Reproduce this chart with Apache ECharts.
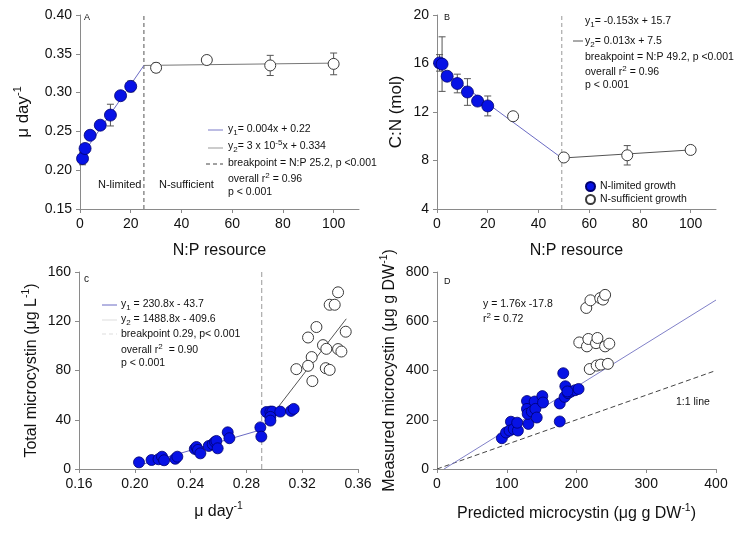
<!DOCTYPE html>
<html><head><meta charset="utf-8">
<script src="https://cdn.jsdelivr.net/npm/echarts@6/dist/echarts.min.js"></script>
<style>html,body{margin:0;padding:0;background:#fff}#c{width:740px;height:534px}</style>
</head><body><div id="c"></div>
<script>
// ---------- Panel A: growth rate vs N:P ----------
const npA_lim  = [1, 2, 4, 8, 12, 16, 20];
const muA_lim  = [0.215, 0.228, 0.245, 0.258, 0.271, 0.296, 0.308];
const errA_lim = [0.008, 0.003, 0.003, 0.003, 0.014, 0.003, 0.007];
const npA_suf  = [30, 50, 75, 100];
const muA_suf  = [0.332, 0.342, 0.335, 0.337];
const errA_suf = [0.006, 0.005, 0.013, 0.014];
const fitA1_x = [0.3, 25.2], fitA1_y = [0.217, 0.335];
const fitA2_x = [25.2, 100], fitA2_y = [0.335, 0.338];
const breakA = 25.2;

// ---------- Panel B: C:N vs N:P ----------
const npB_lim  = [1, 2, 4, 8, 12, 16, 20];
const cnB_lim  = [16.05, 15.95, 14.95, 14.35, 13.65, 12.9, 12.5];
const errB_lim = [0.68, 2.25, 0.3, 0.77, 1.1, 0.35, 0.82];
const npB_suf  = [30, 50, 75, 100];
const cnB_suf  = [11.65, 8.25, 8.43, 8.87];
const errB_suf = [0.25, 0.3, 0.8, 0.2];
const fitB1_x = [0.2, 49.2], fitB1_y = [15.74, 8.2];
const fitB2_x = [49.2, 100], fitB2_y = [8.2, 8.87];
const breakB = 49.2;

// ---------- Panel C: total microcystin vs growth rate ----------
const muC_lim = [0.203,0.212,0.217,0.2195,0.221,0.229,0.2305,0.243,0.2442,0.2453,0.247,0.253,0.2558,0.2575,0.2585,0.2594,0.2666,0.2678,0.290,0.2907,0.2943,0.2972,0.2986,0.2972,0.2972,0.3043,0.312,0.3139];
const mcC_lim = [5.4,7.3,7.9,10.0,7.1,8.3,10.0,16.3,17.9,15.5,12.7,18.7,20.1,22.0,22.8,16.8,29.8,25.0,33.8,26.3,46.3,46.6,46.6,42.3,39.3,46.6,47.2,48.8];
const muC_suf = [0.3457,0.3397,0.3433,0.3302,0.3512,0.3242,0.3349,0.3373,0.3457,0.3481,0.3268,0.3242,0.3158,0.3369,0.3397,0.3273];
const mcC_suf = [143.5,133.4,133.4,115.3,111.5,106.8,100.6,97.6,97.4,95.4,90.9,83.8,81.1,81.9,80.5,71.4];
const fitC1_x = [0.203, 0.291], fitC1_y = [3.0, 32.0];
const fitC2_x = [0.291, 0.3516], fitC2_y = [33.0, 122.0];
const breakC = 0.291;

// ---------- Panel D: measured vs predicted microcystin ----------
const predD_lim = [93,99,106,104,110,116,115,131,129,129,130,136,140,141,143,151,152,176,176,181,184,183,188,192,198,203,187];
const measD_lim = [125,148,192,156,162,156,188,183,276,244,224,233,274,244,209,296,270,266,193,389,336,293,308,314,320,325,315];
const predD_suf = [214,220,234,238,241,204,215,217,228,230,241,247,219,229,235,245];
const measD_suf = [654,685,694,688,707,514,498,528,511,532,498,509,406,420,424,427];
const fitD_x = [10.1, 400], fitD_y = [0, 686.2];
const oneD_x = [0, 400], oneD_y = [0, 400];

// ---------- styles ----------
const FF = 'Liberation Sans, Arial, sans-serif';
const BLUE = '#0712e6', BLUE_EDGE = '#00006e';
const AXC = '#8a8a8a';
const pairs = (xs, ys) => xs.map((x, i) => [x, ys[i]]);

function axis(opt) {
  return Object.assign({
    type: 'value', nameLocation: 'middle',
    axisLine: {show: true, onZero: false, lineStyle: {color: AXC, width: 1}},
    axisTick: {show: true, inside: false, length: 4, lineStyle: {color: AXC}},
    splitLine: {show: false},
    axisLabel: {color: '#111', fontSize: 14, fontFamily: FF, margin: 8},
    nameTextStyle: {color: '#111', fontSize: 16, fontFamily: FF}
  }, opt);
}
function richName(size) {
  return {
    n: {fontSize: size, fontFamily: FF, color: '#111', lineHeight: 22},
    sup: {fontSize: size * 0.65, fontFamily: FF, color: '#111', verticalAlign: 'top', lineHeight: 13}
  };
}
function lineS(i, xs, ys, color, width, type, z) {
  return {type: 'line', xAxisIndex: i, yAxisIndex: i, data: pairs(xs, ys), symbol: 'none',
    lineStyle: {color: color, width: width, type: type || 'solid'}, z: z || 2, silent: true, animation: false};
}
function scat(i, xs, ys, filled, name, size) {
  return {type: 'scatter', name: name, xAxisIndex: i, yAxisIndex: i, data: pairs(xs, ys), symbolSize: size || 11,
    itemStyle: filled ? {color: BLUE, borderColor: BLUE_EDGE, borderWidth: 0.8, opacity: 1}
                      : {color: '#fff', borderColor: '#3a3a3a', borderWidth: 1, opacity: 1},
    z: 5, animation: false};
}
function errS(i, xs, ys, es) {
  return {type: 'custom', xAxisIndex: i, yAxisIndex: i, z: 3, silent: true, animation: false,
    data: xs.map((x, k) => [x, ys[k] - es[k], ys[k] + es[k]]),
    encode: {x: 0, y: [1, 2]},
    renderItem: function (params, api) {
      const lo = api.coord([api.value(0), api.value(1)]);
      const hi = api.coord([api.value(0), api.value(2)]);
      const w = 3.5, st = {stroke: '#555', lineWidth: 1, fill: null};
      return {type: 'group', children: [
        {type: 'line', shape: {x1: lo[0], y1: lo[1], x2: hi[0], y2: hi[1]}, style: st},
        {type: 'line', shape: {x1: lo[0] - w, y1: lo[1], x2: lo[0] + w, y2: lo[1]}, style: st},
        {type: 'line', shape: {x1: hi[0] - w, y1: hi[1], x2: hi[0] + w, y2: hi[1]}, style: st}
      ]};
    }};
}
const RT = {
  t: {fontSize: 10.5, fontFamily: FF, color: '#111', lineHeight: 15},
  sub: {fontSize: 8, fontFamily: FF, color: '#111', verticalAlign: 'bottom', lineHeight: 10},
  sup: {fontSize: 8, fontFamily: FF, color: '#111', verticalAlign: 'top', lineHeight: 10}
};
function txt(x, y, s, size) {
  return {type: 'text', x: x, y: y, silent: true, z: 20,
    style: {text: s, rich: RT, fontSize: size || 10.5, fontFamily: FF, fill: '#111', verticalAlign: 'middle', align: 'left'}};
}
function seg(x1, x2, y, color, dash) {
  return {type: 'line', silent: true, z: 20, shape: {x1: x1, y1: y, x2: x2, y2: y},
    style: {stroke: color, lineWidth: 1, lineDash: dash ? [4, 3] : null}};
}

const option = {
  animation: false,
  backgroundColor: '#fff',
  textStyle: {fontFamily: FF},
  grid: [
    {left: 80, top: 15, width: 279, height: 194},
    {left: 437, top: 15, width: 279, height: 194},
    {left: 79, top: 272, width: 279, height: 197},
    {left: 437, top: 272, width: 279, height: 197}
  ],
  xAxis: [
    axis({gridIndex: 0, min: 0, max: 110, interval: 20, name: 'N:P resource', nameGap: 34,
      axisLabel: {color: '#111', fontSize: 14, fontFamily: FF, margin: 8, showMaxLabel: false}}),
    axis({gridIndex: 1, min: 0, max: 110, interval: 20, name: 'N:P resource', nameGap: 34,
      axisLabel: {color: '#111', fontSize: 14, fontFamily: FF, margin: 8, showMaxLabel: false}}),
    axis({gridIndex: 2, min: 0.16, max: 0.36, interval: 0.04, name: '{n|μ day}{sup|-1}', nameGap: 32,
      nameTextStyle: {rich: richName(16)},
      axisLabel: {color: '#111', fontSize: 14, fontFamily: FF, margin: 8, formatter: v => v.toFixed(2)}}),
    axis({gridIndex: 3, min: 0, max: 400, interval: 100, name: '{n|Predicted microcystin (μg g DW}{sup|-1}{n|)}', nameGap: 34,
      nameTextStyle: {rich: richName(16)}})
  ],
  yAxis: [
    axis({gridIndex: 0, min: 0.15, max: 0.40, interval: 0.05, name: '{n|μ day}{sup|-1}', nameGap: 46,
      nameTextStyle: {rich: richName(17)},
      axisLabel: {color: '#111', fontSize: 14, fontFamily: FF, margin: 8, formatter: v => v.toFixed(2)}}),
    axis({gridIndex: 1, min: 4, max: 20, interval: 4, name: 'C:N (mol)', nameGap: 32,
      nameTextStyle: {color: '#111', fontSize: 17, fontFamily: FF}}),
    axis({gridIndex: 2, min: 0, max: 160, interval: 40, name: '{n|Total microcystin (μg L}{sup|-1}{n|)}', nameGap: 36,
      nameTextStyle: {rich: richName(16)}}),
    axis({gridIndex: 3, min: 0, max: 800, interval: 200, name: '{n|Measured microcystin (μg g DW}{sup|-1}{n|)}', nameGap: 36,
      nameTextStyle: {rich: richName(16)}})
  ],
  legend: {
    orient: 'vertical', left: 580, top: 176, itemGap: 2, itemWidth: 9, itemHeight: 9,
    icon: 'circle', selectedMode: false,
    textStyle: {fontSize: 10.5, fontFamily: FF, color: '#111'},
    data: ['N-limited growth', 'N-sufficient growth']
  },
  series: [
    // A
    lineS(0, [breakA, breakA], [0.15, 0.40], '#555', 1, [4, 3], 1),
    lineS(0, fitA1_x, fitA1_y, '#6b6bc4', 1),
    lineS(0, fitA2_x, fitA2_y, '#777', 1),
    errS(0, npA_lim, muA_lim, errA_lim),
    errS(0, npA_suf, muA_suf, errA_suf),
    scat(0, npA_lim, muA_lim, true, 'A lim', 12),
    scat(0, npA_suf, muA_suf, false, 'A suf', 11),
    // B
    lineS(1, [breakB, breakB], [4, 20], '#999', 1, [4, 3], 1),
    lineS(1, fitB1_x, fitB1_y, '#6b6bc4', 1),
    lineS(1, fitB2_x, fitB2_y, '#555', 1),
    errS(1, npB_lim, cnB_lim, errB_lim),
    errS(1, npB_suf, cnB_suf, errB_suf),
    scat(1, npB_lim, cnB_lim, true, 'N-limited growth', 12),
    scat(1, npB_suf, cnB_suf, false, 'N-sufficient growth', 11),
    // C
    lineS(2, [breakC, breakC], [0, 160], '#999', 1, [5, 3], 1),
    lineS(2, fitC1_x, fitC1_y, '#6b6bc4', 1),
    lineS(2, fitC2_x, fitC2_y, '#555', 1),
    scat(2, muC_lim, mcC_lim, true, 'C lim', 11),
    scat(2, muC_suf, mcC_suf, false, 'C suf', 11),
    // D
    lineS(3, oneD_x, oneD_y, '#444', 1, [5, 3], 1),
    lineS(3, fitD_x, fitD_y, '#8080c8', 1),
    scat(3, predD_lim, measD_lim, true, 'D lim', 11),
    scat(3, predD_suf, measD_suf, false, 'D suf', 11)
  ],
  graphic: [
    // panel letters
    txt(84, 18, 'A', 9), txt(444, 18, 'B', 9), txt(84, 279, 'c', 10), txt(444, 282, 'D', 9),
    // A annotations
    txt(98, 185, 'N-limited', 11), txt(159, 185, 'N-sufficient', 11),
    seg(208, 223, 130, '#7a7ac8'), txt(228, 129, '{t|y}{sub|1}{t|= 0.004x + 0.22}'),
    seg(208, 223, 148, '#999'), txt(228, 146, '{t|y}{sub|2}{t|= 3 x 10}{sup|-5}{t|x + 0.334}'),
    seg(206, 223, 164, '#444', true), txt(228, 163, '{t|breakpoint = N:P 25.2, p <0.001}'),
    txt(228, 179, '{t|overall r}{sup|2}{t| = 0.96}'),
    txt(228, 192, '{t|p < 0.001}'),
    // B annotations
    txt(585, 21, '{t|y}{sub|1}{t|= -0.153x + 15.7}'),
    seg(573, 583, 41, '#555'), txt(585, 41, '{t|y}{sub|2}{t|= 0.013x + 7.5}'),
    txt(585, 57, '{t|breakpoint = N:P 49.2, p <0.001}'),
    txt(585, 72, '{t|overall r}{sup|2}{t| = 0.96}'),
    txt(585, 85, '{t|p < 0.001}'),
    // C annotations
    seg(102, 117, 305, '#6b6bc4'), txt(121, 304, '{t|y}{sub|1}{t| = 230.8x - 43.7}'),
    seg(102, 117, 320, '#ddd'), txt(121, 319, '{t|y}{sub|2}{t| = 1488.8x - 409.6}'),
    seg(102, 117, 334, '#ddd', true), txt(121, 334, '{t|breakpoint 0.29, p< 0.001}'),
    txt(121, 350, '{t|overall r}{sup|2}{t|  = 0.90}'),
    txt(121, 363, '{t|p < 0.001}'),
    // D annotations
    txt(483, 304, '{t|y = 1.76x -17.8}'),
    txt(483, 319, '{t|r}{sup|2}{t| = 0.72}'),
    txt(676, 402, '{t|1:1 line}')
  ]
};
const chart = echarts.init(document.getElementById('c'), null, {renderer: 'canvas'});
chart.setOption(option);
</script></body></html>
